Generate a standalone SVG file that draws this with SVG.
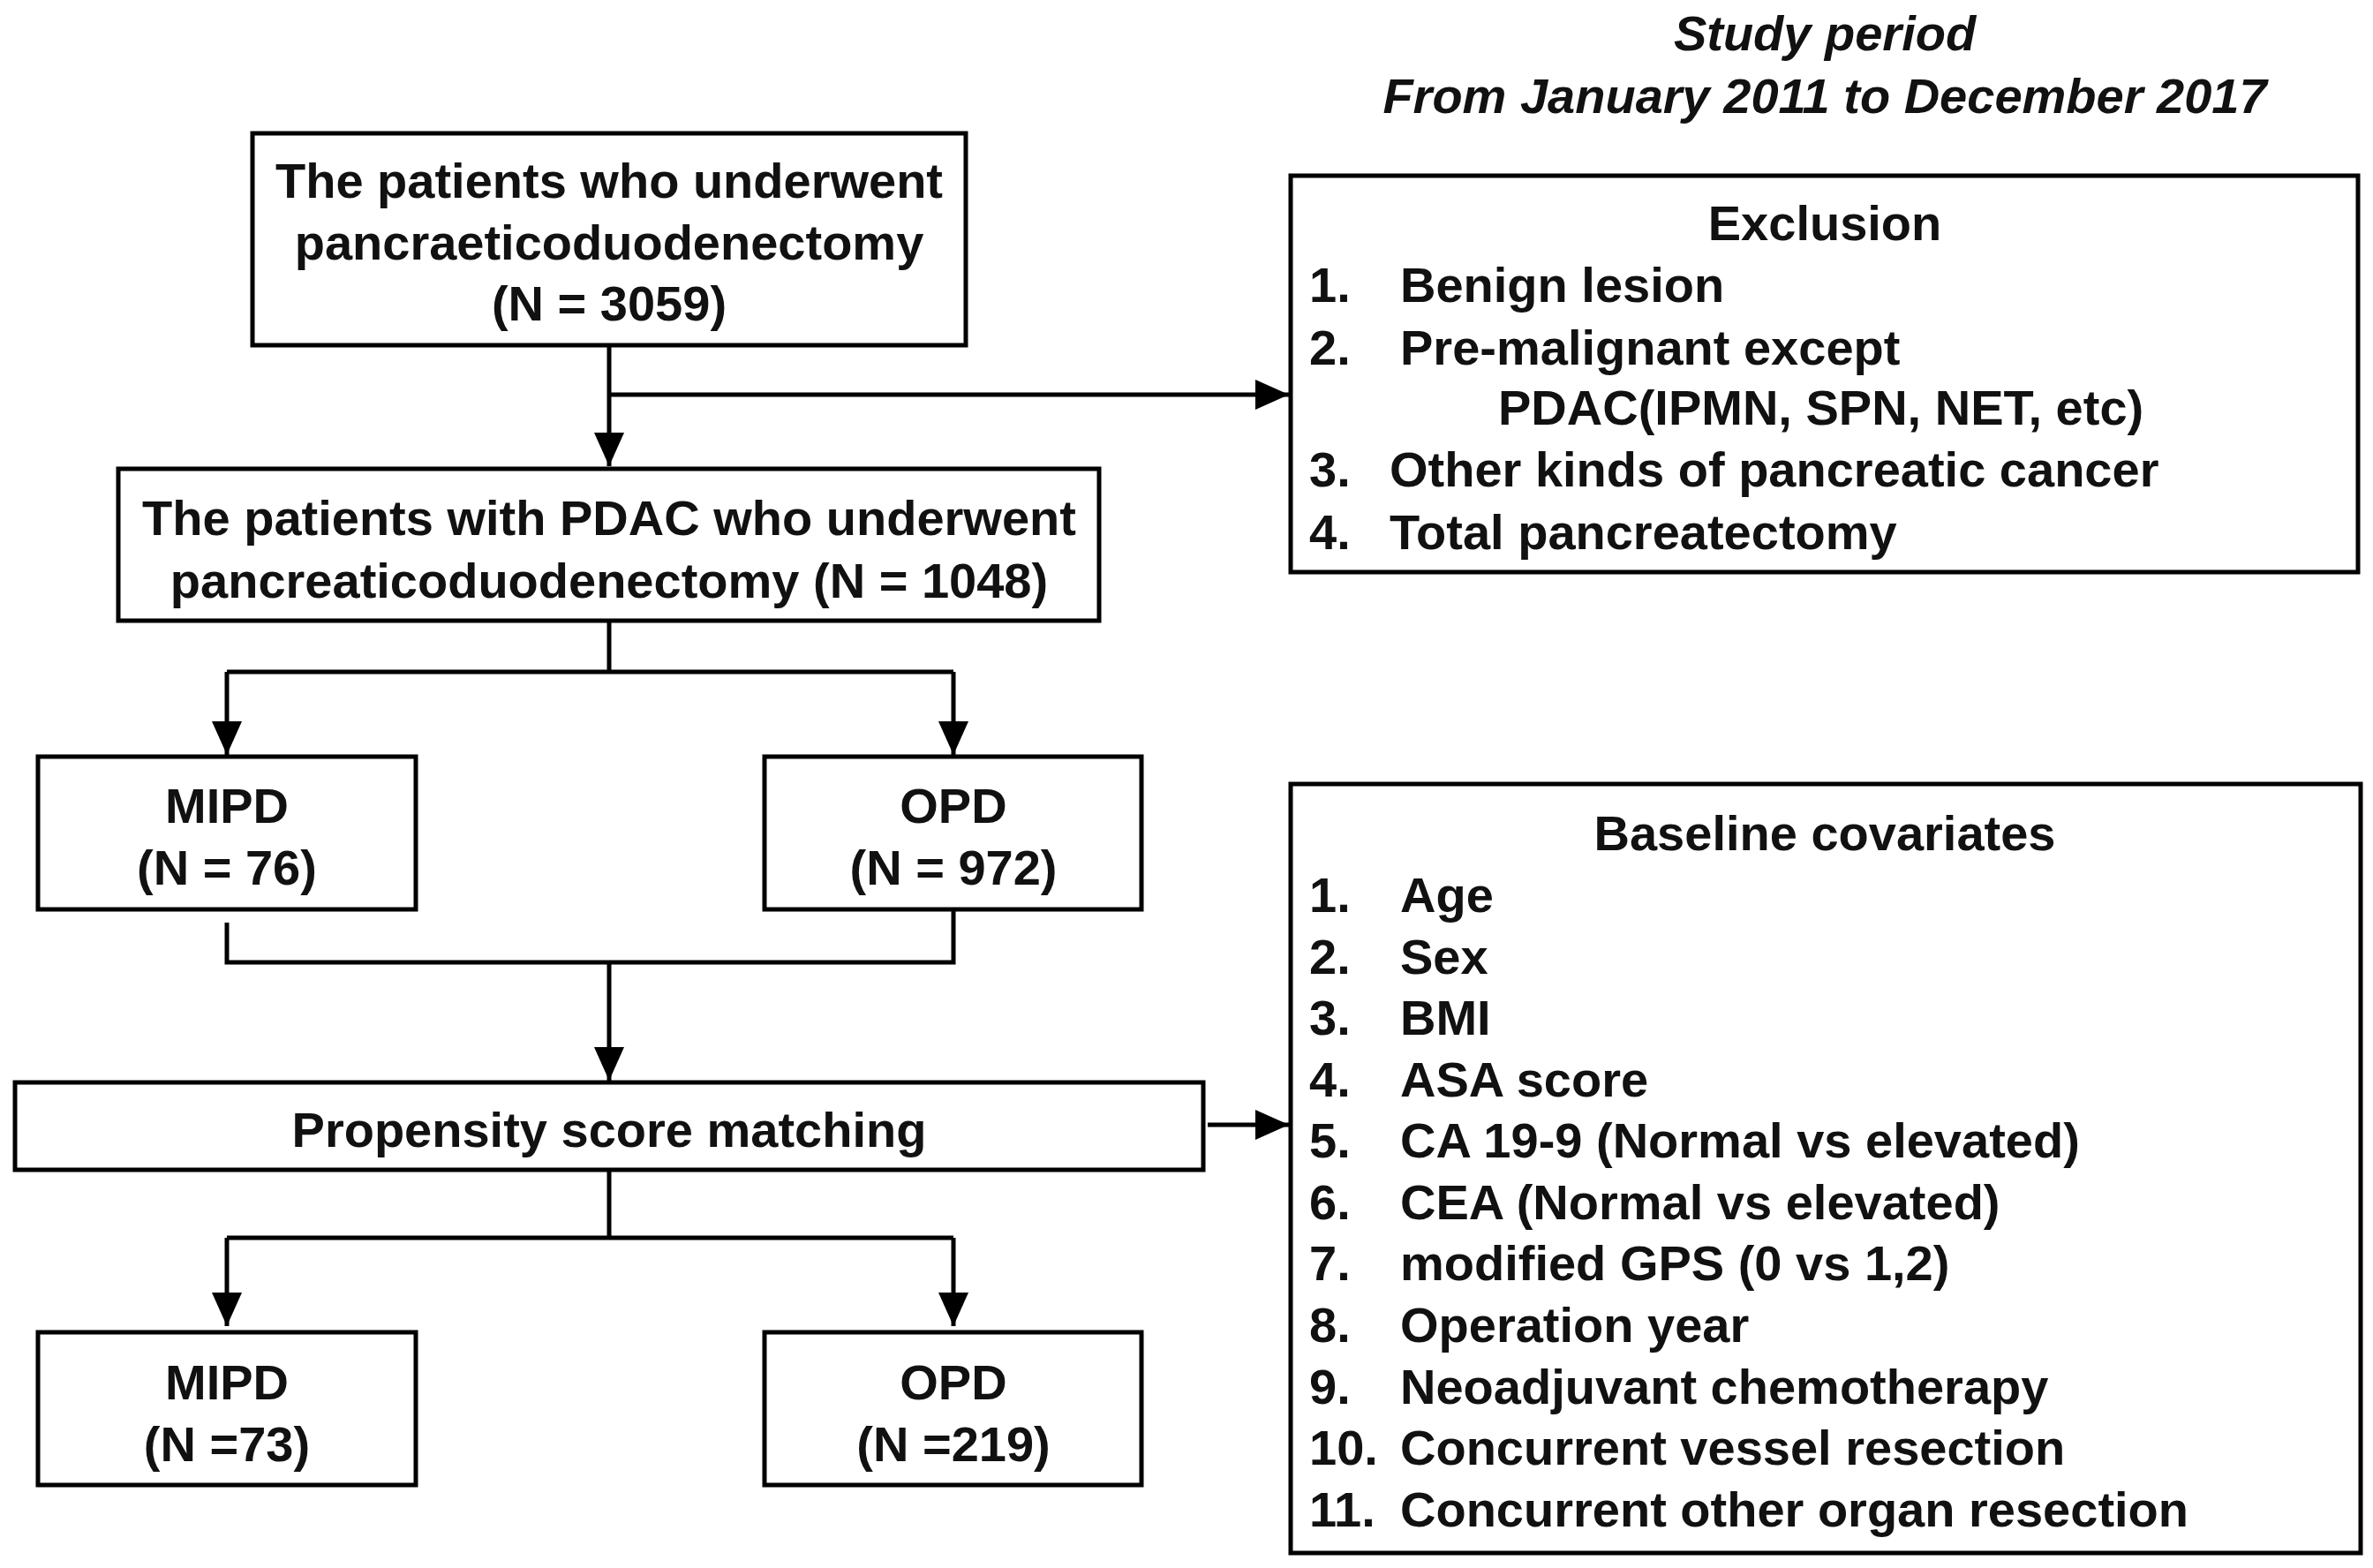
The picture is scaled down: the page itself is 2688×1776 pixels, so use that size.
<svg xmlns="http://www.w3.org/2000/svg" width="2688" height="1776" viewBox="0 0 2688 1776">
<style>
  .box{fill:#fff;stroke:#000;stroke-width:5}
  .t{font-family:"Liberation Sans",Arial,sans-serif;font-weight:bold;font-size:56px;fill:#111}
  .c{text-anchor:middle}
  .i{font-style:italic}
  .ln{fill:none;stroke:#000;stroke-width:5}
</style>
<defs>
  <marker id="arr" markerUnits="userSpaceOnUse" markerWidth="40" markerHeight="34" refX="38" refY="17" orient="auto" viewBox="0 0 40 34">
    <path d="M0,0 L38,17 L0,34 z" fill="#000"/>
  </marker>
</defs>
<rect width="2688" height="1776" fill="#fff"/>

<g id="period">
  <text class="t c i" x="2067" y="57">Study period</text>
  <text class="t c i" x="2067" y="128">From January 2011 to December 2017</text>
</g>

<g id="connectors">
  <path class="ln" d="M690,391 V528" marker-end="url(#arr)"/>
  <path class="ln" d="M690,447 H1460" marker-end="url(#arr)"/>
  <path class="ln" d="M690,703 V761"/>
  <path class="ln" d="M257,761 H1080"/>
  <path class="ln" d="M257,761 V855" marker-end="url(#arr)"/>
  <path class="ln" d="M1080,761 V855" marker-end="url(#arr)"/>
  <path class="ln" d="M257,1045 V1090 H1080 V1030"/>
  <path class="ln" d="M690,1090 V1224" marker-end="url(#arr)"/>
  <path class="ln" d="M1368,1274 H1460" marker-end="url(#arr)"/>
  <path class="ln" d="M690,1325 V1402"/>
  <path class="ln" d="M257,1402 H1080"/>
  <path class="ln" d="M257,1402 V1502" marker-end="url(#arr)"/>
  <path class="ln" d="M1080,1402 V1502" marker-end="url(#arr)"/>
</g>

<g id="n-all">
  <rect class="box" x="286" y="151" width="808" height="240"/>
  <text class="t c" x="690" y="224">The patients who underwent</text>
  <text class="t c" x="690" y="294">pancraeticoduodenectomy</text>
  <text class="t c" x="690" y="363">(N = 3059)</text>
</g>

<g id="n-exclusion">
  <rect class="box" x="1462" y="199" width="1209" height="449"/>
  <text class="t c" x="2067" y="272">Exclusion</text>
  <text class="t" x="1483" y="342">1.</text><text class="t" x="1586" y="342">Benign lesion</text>
  <text class="t" x="1483" y="413">2.</text><text class="t" x="1586" y="413">Pre-malignant except</text>
  <text class="t" x="1697" y="481">PDAC(IPMN, SPN, NET, etc)</text>
  <text class="t" x="1483" y="551">3.</text><text class="t" x="1574" y="551">Other kinds of pancreatic cancer</text>
  <text class="t" x="1483" y="622">4.</text><text class="t" x="1574" y="622">Total pancreatectomy</text>
</g>

<g id="n-pdac">
  <rect class="box" x="134" y="531" width="1111" height="172"/>
  <text class="t c" x="690" y="606">The patients with PDAC who underwent</text>
  <text class="t c" x="690" y="677">pancreaticoduodenectomy (N = 1048)</text>
</g>

<g id="n-mipd1">
  <rect class="box" x="43" y="857" width="428" height="173"/>
  <text class="t c" x="257" y="932">MIPD</text>
  <text class="t c" x="257" y="1002">(N = 76)</text>
</g>

<g id="n-opd1">
  <rect class="box" x="866" y="857" width="427" height="173"/>
  <text class="t c" x="1080" y="932">OPD</text>
  <text class="t c" x="1080" y="1002">(N = 972)</text>
</g>

<g id="n-psm">
  <rect class="box" x="17" y="1226" width="1346" height="99"/>
  <text class="t c" x="690" y="1299">Propensity score matching</text>
</g>

<g id="n-covariates">
  <rect class="box" x="1462" y="888" width="1212" height="871"/>
  <text class="t c" x="2067" y="963">Baseline covariates</text>
  <text class="t" x="1483" y="1033">1.</text><text class="t" x="1586" y="1033">Age</text>
  <text class="t" x="1483" y="1103">2.</text><text class="t" x="1586" y="1103">Sex</text>
  <text class="t" x="1483" y="1172">3.</text><text class="t" x="1586" y="1172">BMI</text>
  <text class="t" x="1483" y="1242">4.</text><text class="t" x="1586" y="1242">ASA score</text>
  <text class="t" x="1483" y="1311">5.</text><text class="t" x="1586" y="1311">CA 19-9 (Normal vs elevated)</text>
  <text class="t" x="1483" y="1381">6.</text><text class="t" x="1586" y="1381">CEA (Normal vs elevated)</text>
  <text class="t" x="1483" y="1450">7.</text><text class="t" x="1586" y="1450">modified GPS (0 vs 1,2)</text>
  <text class="t" x="1483" y="1520">8.</text><text class="t" x="1586" y="1520">Operation year</text>
  <text class="t" x="1483" y="1590">9.</text><text class="t" x="1586" y="1590">Neoadjuvant chemotherapy</text>
  <text class="t" x="1483" y="1659">10.</text><text class="t" x="1586" y="1659">Concurrent vessel resection</text>
  <text class="t" x="1483" y="1729">11.</text><text class="t" x="1586" y="1729">Concurrent other organ resection</text>
</g>

<g id="n-mipd2">
  <rect class="box" x="43" y="1509" width="428" height="173"/>
  <text class="t c" x="257" y="1585">MIPD</text>
  <text class="t c" x="257" y="1655">(N =73)</text>
</g>

<g id="n-opd2">
  <rect class="box" x="866" y="1509" width="427" height="173"/>
  <text class="t c" x="1080" y="1585">OPD</text>
  <text class="t c" x="1080" y="1655">(N =219)</text>
</g>
</svg>
